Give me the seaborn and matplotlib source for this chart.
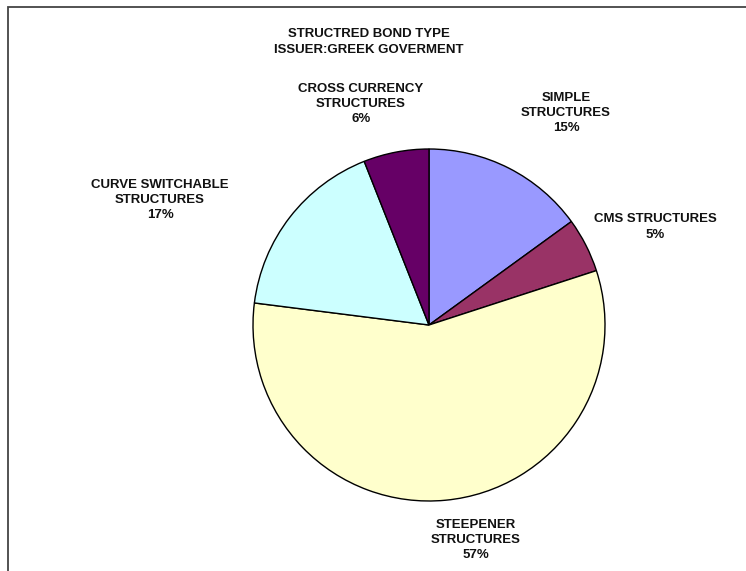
import matplotlib
matplotlib.use("Agg")
import matplotlib.pyplot as plt
from matplotlib.patches import Rectangle
import seaborn as sns

sns.set_theme(style="white")
plt.rcParams["font.family"] = ["Liberation Sans Narrow", "Liberation Sans", "DejaVu Sans"]

# Structured bond issuance by type
categories = ["SIMPLE\nSTRUCTURES", "CMS STRUCTURES", "STEEPENER\nSTRUCTURES",
              "CURVE SWITCHABLE\nSTRUCTURES", "CROSS CURRENCY\nSTRUCTURES"]
shares = [15, 5, 57, 17, 6]
colors = ["#9999FF", "#993366", "#FFFFCC", "#CCFFFF", "#660066"]
title_lines = ["STRUCTRED BOND TYPE", "ISSUER:GREEK GOVERMENT"]

W, H = 746, 571
fig = plt.figure(figsize=(W / 100, H / 100), dpi=100)
ax = fig.add_axes([0, 0, 1, 1])
ax.set_xlim(0, W)
ax.set_ylim(0, H)
ax.set_aspect("equal")
ax.axis("off")

# pie centred in pixel space (y measured from the bottom)
cx, cy, r = 429, H - 325, 176
ax.pie(shares, colors=colors, startangle=90, counterclock=False,
       center=(cx, cy), radius=r, frame=True,
       wedgeprops=dict(edgecolor="black", linewidth=1.0))
ax.set_xlim(0, W)
ax.set_ylim(0, H)
ax.axis("off")

# label anchors (pixel positions, top-down) for each slice
label_pos = [(566, 113), (655, 227), (476, 540), (160, 200), (361, 104)]
for name, pct, (lx, ly) in zip(categories, shares, label_pos):
    ax.text(lx, H - ly, f"{name}\n{pct}%", ha="center", va="center",
            fontsize=9.5, fontweight="bold", color="#111111", linespacing=1.35)

ax.text(369, H - 42, "\n".join(title_lines), ha="center", va="center",
        fontsize=9.5, fontweight="bold", color="#111111", linespacing=1.45)

# chart-area border
ax.add_patch(Rectangle((8, -10), W + 20, H - 7 + 10, fill=False,
                       edgecolor="#444444", linewidth=1.3, clip_on=False))

fig.savefig("out.png", dpi=100, facecolor="white")
